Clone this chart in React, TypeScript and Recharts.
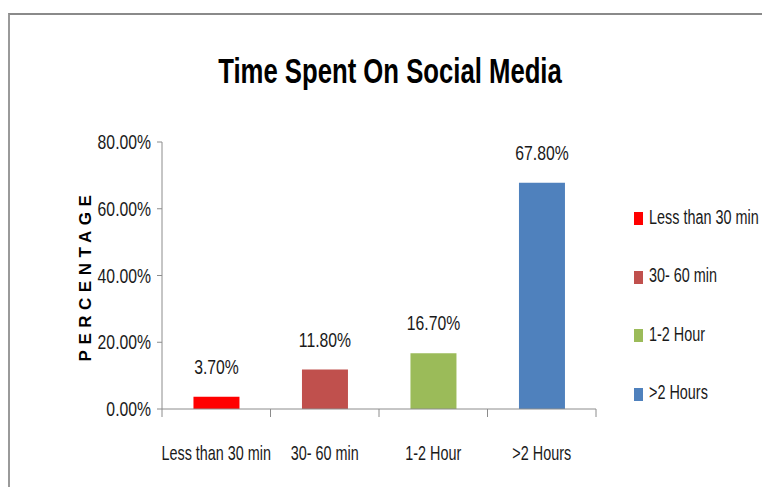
import { Bar, BarChart, Cell, LabelList, XAxis, YAxis } from "recharts";

const categories = ["Less than 30 min", "30- 60 min", "1-2 Hour", ">2 Hours"];
const values = [3.7, 11.8, 16.7, 67.8];
const colors = ["#ff0000", "#c0504d", "#9bbb59", "#4f81bd"];
const yTicks = [0, 20, 40, 60, 80];

// no narrow font installed, so regular Liberation Sans squeezed sideways
const font = "'Liberation Sans', Arial, sans-serif";
const axisGray = "#8c8c8c";
const textColor = "#1a1a1a";

const data = categories.map((name, i) => ({ name, value: values[i] }));

const pct = (v: number) => `${Number(v).toFixed(2)}%`;

function Squeezed({ x, y, anchor, size, sx, children }: any) {
  return (
    <text
      transform={`translate(${x},${y}) scale(${sx},1)`}
      textAnchor={anchor}
      fill={textColor}
      fontSize={size}
      fontFamily={font}
    >
      {children}
    </text>
  );
}

function CategoryTick(props: any) {
  const { x, y, payload, index, visibleTicksCount, width } = props;
  const band = width / visibleTicksCount;
  const left = x - band / 2;
  const axisY = y - 8;
  return (
    <g>
      <line x1={left} y1={axisY} x2={left} y2={axisY + 8} stroke={axisGray} />
      {index === visibleTicksCount - 1 ? (
        <line x1={x + band / 2} y1={axisY} x2={x + band / 2} y2={axisY + 8} stroke={axisGray} />
      ) : null}
      <Squeezed x={x} y={axisY + 51} anchor="middle" size={20} sx={0.72}>
        {payload.value}
      </Squeezed>
    </g>
  );
}

function ValueTick(props: any) {
  const { x, y, payload } = props;
  return (
    <Squeezed x={x} y={y + 7} anchor="end" size={21} sx={0.75}>
      {pct(payload.value)}
    </Squeezed>
  );
}

function BarLabel(props: any) {
  const { x, y, width, value } = props;
  return (
    <Squeezed x={x + width / 2} y={y - 23} anchor="middle" size={21} sx={0.75}>
      {pct(value)}
    </Squeezed>
  );
}

function LegendList() {
  return (
    <div style={{ position: "absolute", left: 626, top: 180, width: 128 }}>
      {categories.map((name, i) => (
        <div key={name} style={{ display: "flex", alignItems: "center", height: 58.5 }}>
          <span
            style={{ flexShrink: 0, width: 9, height: 13, background: colors[i], marginRight: 6, marginTop: 3 }}
          />
          <span
            style={{
              flexShrink: 0,
              fontFamily: font,
              fontSize: 20,
              color: textColor,
              whiteSpace: "nowrap",
              display: "inline-block",
              transform: "scaleX(0.72)",
              transformOrigin: "left center",
            }}
          >
            {name}
          </span>
        </div>
      ))}
    </div>
  );
}

export default function App() {
  return (
    <div
      style={{
        position: "fixed",
        left: 8,
        top: 8,
        width: 754,
        height: 479,
        overflow: "hidden",
        background: "#fff",
      }}
    >
      <div
        style={{
          position: "absolute",
          left: 0,
          top: 5,
          width: 754,
          height: 474,
          borderTop: "2px solid #8a8a8a",
          borderLeft: "2px solid #9a9a9a",
        }}
      />
      <div
        style={{
          position: "absolute",
          left: 382,
          top: 43,
          transform: "translateX(-50%) scaleX(0.734)",
          whiteSpace: "nowrap",
          fontFamily: font,
          fontWeight: "bold",
          fontSize: 35,
          color: "#000",
        }}
      >
        Time Spent On Social Media
      </div>
      <BarChart
        width={754}
        height={479}
        data={data}
        margin={{ top: 134, right: 166, bottom: 48, left: 60 }}
        barCategoryGap="29%"
        style={{ position: "absolute", left: 0, top: 0 }}
      >
        <XAxis
          dataKey="name"
          axisLine={{ stroke: axisGray }}
          tickLine={false}
          tick={<CategoryTick />}
          interval={0}
          height={30}
        />
        <YAxis
          domain={[0, 80]}
          ticks={yTicks}
          axisLine={{ stroke: axisGray }}
          tickLine={{ stroke: axisGray }}
          tickSize={5}
          tickMargin={6}
          width={94}
          tick={<ValueTick />}
          label={{
            content: ({ viewBox }: any) => (
              <text
                x={viewBox.x + 17}
                y={viewBox.y + viewBox.height / 2}
                transform={`rotate(-90 ${viewBox.x + 17} ${viewBox.y + viewBox.height / 2})`}
                textAnchor="middle"
                dominantBaseline="central"
                fontFamily={font}
                fontWeight="bold"
                fontSize={17}
                letterSpacing={5.5}
                fill="#000"
              >
                PERCENTAGE
              </text>
            ),
          }}
        />
        <Bar dataKey="value" isAnimationActive={false}>
          {data.map((d, i) => (
            <Cell key={d.name} fill={colors[i]} />
          ))}
          <LabelList dataKey="value" content={<BarLabel />} />
        </Bar>
      </BarChart>
      <LegendList />
    </div>
  );
}
